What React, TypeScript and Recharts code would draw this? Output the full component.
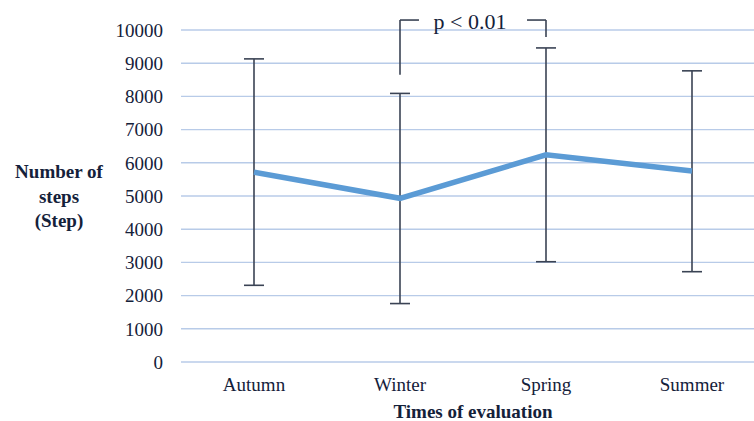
import {
  CartesianGrid,
  ErrorBar,
  Line,
  LineChart,
  ReferenceDot,
  ReferenceLine,
  XAxis,
  YAxis,
} from "recharts";

const seasons = ["Autumn", "Winter", "Spring", "Summer"];
const meanSteps = [5720, 4930, 6240, 5750];
const lowerSteps = [2310, 1760, 3020, 2720];
const upperSteps = [9130, 8090, 9460, 8770];
const yTicks = [0, 1000, 2000, 3000, 4000, 5000, 6000, 7000, 8000, 9000, 10000];

// significance bracket between Winter and Spring
const bracketTop = 10300;
const bracketLeftBottom = 8650;
const bracketRightBottom = 9790;

const data = seasons.map((s, i) => ({
  x: i,
  season: s,
  steps: meanSteps[i],
  err: [meanSteps[i] - lowerSteps[i], upperSteps[i] - meanSteps[i]],
}));

const font = "'Liberation Serif', 'Times New Roman', serif";
const textColor = "#14213a";

export default function App() {
  return (
    <div
      style={{
        position: "absolute",
        left: 0,
        top: 0,
        width: 754,
        height: 421,
        overflow: "hidden",
        background: "#fff",
        fontFamily: font,
      }}
    >
      <LineChart
        width={770}
        height={421}
        data={data}
        margin={{ top: 30, right: 5, bottom: 0, left: 0 }}
      >
        <CartesianGrid vertical={false} stroke="#B8CBE8" strokeWidth={1.4} />
        <XAxis
          dataKey="x"
          type="number"
          domain={[-0.5, 3.5]}
          ticks={[0, 1, 2, 3]}
          tickFormatter={(i: number) => seasons[i]}
          axisLine={false}
          tickLine={false}
          tickMargin={10}
          height={59}
          tick={{ fontSize: 19, fill: textColor, fontFamily: font }}
          label={{
            value: "Times of evaluation",
            position: "insideBottom",
            offset: 3,
            style: { fontSize: 19, fontWeight: "bold", fill: textColor, fontFamily: font },
          }}
        />
        <YAxis
          domain={[0, 10000]}
          ticks={yTicks}
          axisLine={false}
          tickLine={false}
          tickMargin={12}
          width={181}
          tick={{ fontSize: 19, fill: textColor, fontFamily: font }}
        />
        <Line
          type="linear"
          dataKey="steps"
          stroke="#5B9BD5"
          strokeWidth={5.5}
          dot={false}
          activeDot={false}
          isAnimationActive={false}
        >
          <ErrorBar
            dataKey="err"
            direction="y"
            width={10}
            stroke="#3A4354"
            strokeWidth={1.6}
            isAnimationActive={false}
          />
        </Line>
        <ReferenceLine
          segment={[
            { x: 1, y: bracketLeftBottom },
            { x: 1, y: bracketTop },
          ]}
          stroke="#3A4354"
          strokeWidth={1.6}
          ifOverflow="visible"
        />
        <ReferenceLine
          segment={[
            { x: 1, y: bracketTop },
            { x: 1.13, y: bracketTop },
          ]}
          stroke="#3A4354"
          strokeWidth={1.6}
          ifOverflow="visible"
        />
        <ReferenceLine
          segment={[
            { x: 1.87, y: bracketTop },
            { x: 2, y: bracketTop },
          ]}
          stroke="#3A4354"
          strokeWidth={1.6}
          ifOverflow="visible"
        />
        <ReferenceLine
          segment={[
            { x: 2, y: bracketTop },
            { x: 2, y: bracketRightBottom },
          ]}
          stroke="#3A4354"
          strokeWidth={1.6}
          ifOverflow="visible"
        />
        <ReferenceDot
          x={1.48}
          y={10260}
          r={0}
          fill="none"
          stroke="none"
          ifOverflow="visible"
          label={{
            value: "p < 0.01",
            position: "center",
            style: { fontSize: 22, fill: textColor, fontFamily: font },
          }}
        />
      </LineChart>
      <div
        style={{
          position: "absolute",
          left: 0,
          top: 160,
          width: 118,
          textAlign: "center",
          fontSize: 19,
          fontWeight: "bold",
          lineHeight: "24.5px",
          color: textColor,
        }}
      >
        Number of
        <br />
        steps
        <br />
        (Step)
      </div>
    </div>
  );
}
